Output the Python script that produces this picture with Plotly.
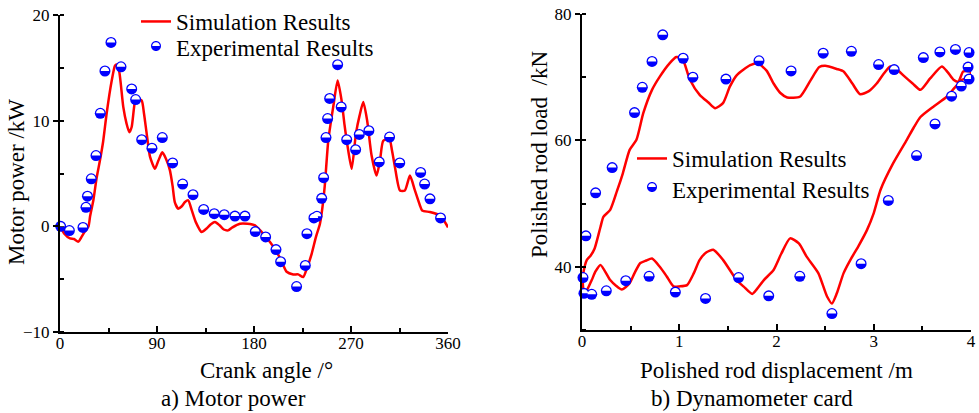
import plotly.graph_objects as go

# ---------------- a) Motor power ----------------
crank_sim = [0, 4, 9.3, 13, 17, 20, 23, 26.3, 28, 31, 34, 37, 40, 43.3, 48, 51, 52.5, 55,
             58.7, 61.8, 64.3, 66.5, 69.6, 71.7, 75.8, 77.9, 80.4, 83.5, 88.1, 91.2, 94.9,
             98.3, 102, 104.5, 106.5, 109.7, 113, 116, 119, 122, 126, 131.4, 136, 140,
             143.8, 148, 152, 156.1, 160, 166.9, 174, 180.9, 184, 188.6, 195, 201, 206,
             210.3, 216.4, 221, 225.7, 229, 233.5, 237.5, 241.2, 243.5, 245.8, 248.9, 253.5,
             257.6, 261.3, 264, 266.5, 270.6, 274.6, 278, 281.4, 285, 289.1, 293.7, 297,
             299.9, 305.5, 308, 310.8, 315.4, 320, 324.7, 329.3, 333.9, 336, 343.2, 352.5,
             356, 360]
power_sim = [0, -0.7, -1.15, -1.2, -1.45, -1.0, -0.5, -0.05, 1.0, 2.5, 4.6, 6.2, 8.0, 10.7,
             13.8, 15.2, 15.3, 14.6, 11.3, 9.7, 8.9, 9.4, 11.8, 12.1, 11.9, 10.7, 8.8, 6.6,
             5.45, 6.2, 7.0, 6.4, 5.3, 3.8, 2.3, 1.67, 1.9, 2.3, 2.46, 1.6, 0.4, -0.54, -0.2,
             0.2, 0.41, 0.1, -0.3, -0.38, -0.1, 0.25, 0.25, 0.1, -0.2, -0.7, -1.5, -2.4, -3.4,
             -4.3, -4.55, -4.55, -4.8, -4.0, -2.6, -1.0, 0.25, 1.8, 4.0, 8.1, 11.3, 13.8,
             11.9, 9.6, 7.8, 5.45, 8.8, 10.5, 11.76, 10.0, 6.7, 4.8, 6.3, 8.1, 8.3, 7.2, 5.6,
             3.4, 3.4, 4.8, 3.4, 2.0, 1.5, 1.35, 1.04, 0.6, -0.1]

crank_exp = [0.6, 8.7, 21.3, 24.1, 25.5, 29.0, 33.4, 37.4, 41.7, 47.3, 56.6, 66.5, 70.2,
             75.8, 85.3, 94.9, 104.5, 113.8, 123.4, 133.3, 143.1, 152.4, 162.3, 171.6,
             181.2, 190.8, 200.4, 204.7, 219.5, 227.6, 229.1, 235.6, 238.4, 242.8, 244.6,
             246.8, 248.3, 250.2, 257.6, 260.9, 266.0, 274.3, 277.7, 286.6, 296.2, 305.8,
             315.2, 334.6, 338.3, 343.3, 353.1]
power_exp = [0.0, -0.4, -0.1, 1.8, 2.85, 4.5, 6.7, 10.7, 14.7, 17.4, 15.1, 13.0, 12.0, 8.2,
             7.4, 8.4, 6.0, 4.0, 3.0, 1.6, 1.2, 1.1, 0.97, 0.97, -0.5, -1.0, -2.2, -3.35,
             -5.7, -3.7, -0.7, 0.8, 0.95, 2.65, 4.6, 8.4, 10.2, 12.1, 15.3, 11.3, 8.2, 7.25,
             8.7, 9.05, 6.1, 8.45, 6.0, 5.1, 4.0, 2.6, 0.8]

# ---------------- b) Dynamometer card ----------------
disp_sim = [0.01, 0.03, 0.05, 0.09, 0.13, 0.19, 0.22, 0.29, 0.36, 0.42, 0.49, 0.56, 0.63,
            0.72, 0.80, 0.90, 0.97, 1.03, 1.11, 1.21, 1.30, 1.37, 1.45, 1.52, 1.59, 1.73,
            1.81, 1.90, 1.97, 2.04, 2.11, 2.24, 2.35, 2.44, 2.50, 2.62, 2.69, 2.78, 2.86,
            2.95, 3.03, 3.10, 3.17, 3.24, 3.31, 3.40, 3.48, 3.58, 3.70, 3.76, 3.82, 3.87,
            3.92, 3.99,
            4.0, 3.96, 3.91, 3.83, 3.75, 3.61, 3.48, 3.41, 3.34, 3.20, 3.07, 3.00, 2.93,
            2.84, 2.76, 2.69, 2.62, 2.57, 2.52, 2.43, 2.31, 2.23, 2.14, 2.05, 1.97, 1.87,
            1.80, 1.75, 1.66, 1.59, 1.45, 1.35, 1.28, 1.21, 1.15, 1.08, 1.00, 0.94, 0.87,
            0.80, 0.72, 0.66, 0.60, 0.54, 0.49, 0.41, 0.35, 0.29, 0.19, 0.14, 0.10, 0.05,
            0.02, 0.01, 0.01]
load_sim = [38.5, 40.2, 41.1, 41.8, 42.9, 46.3, 47.9, 49.0, 52.0, 54.8, 58.5, 60.1, 64.3,
            68.0, 70.1, 72.2, 73.2, 73.0, 69.6, 67.2, 66.0, 65.1, 65.9, 68.5, 70.3, 71.9,
            72.2, 71.0, 69.0, 67.5, 66.8, 66.9, 69.5, 71.6, 71.8, 71.3, 70.9, 69.0, 67.3,
            67.8, 69.0, 70.5, 71.7, 71.2, 70.2, 69.0, 68.0, 69.8, 71.7, 70.8, 69.6, 69.3,
            70.9, 70.9,
            70.5, 69.8, 69.6, 68.3, 66.9, 65.3, 63.7, 62.0, 60.1, 56.4, 52.2, 48.5, 45.8,
            43.2, 41.1, 39.0, 35.8, 34.2, 35.3, 39.0, 41.6, 43.7, 44.5, 42.1, 39.5, 37.9,
            36.5, 35.7, 36.9, 37.9, 41.1, 42.7, 42.3, 41.1, 39.0, 37.1, 36.9, 36.9, 38.5,
            40.0, 41.3, 41.0, 40.6, 39.0, 37.4, 36.4, 37.0, 37.9, 40.3, 39.3, 37.9, 36.3,
            36.0, 37.0, 38.5]

disp_exp = [0.01, 0.02, 0.04, 0.10, 0.14, 0.25, 0.31, 0.45, 0.54, 0.62, 0.69, 0.72, 0.83,
            0.96, 1.04, 1.14, 1.27, 1.48, 1.61, 1.82, 1.92, 2.15, 2.24, 2.48, 2.57, 2.77,
            2.87, 3.05, 3.15, 3.21, 3.44, 3.51, 3.63, 3.68, 3.80, 3.84, 3.90, 3.97, 3.98,
            3.98]
load_exp = [38.3, 35.8, 44.9, 35.65, 51.7, 36.2, 55.7, 37.8, 64.4, 68.4, 38.5, 72.5, 76.7,
            36.0, 73.0, 70.0, 35.0, 69.7, 38.3, 72.6, 35.4, 71.0, 38.5, 73.8, 32.6, 74.1,
            40.5, 72.0, 50.5, 71.2, 57.6, 73.1, 62.6, 74.0, 67.0, 74.4, 68.6, 71.6, 73.9,
            69.7]

TICK_LEFT_X = [0, 90, 180, 270, 360]
TICK_LEFT_Y = [-10, 0, 10, 20]
TICK_RIGHT_X = [0, 1, 2, 3, 4]
TICK_RIGHT_Y = [40, 60, 80]

W, H = 979, 413
RED = "#ff0000"
BLUE = "#0000ff"
SERIF = "Liberation Serif"
MARKER_SIZE = 11
LEGEND_MARKER_SIZE = 10
LEGEND_FONT = dict(family=SERIF, size=23, color="black")


def px_x(p):
    return p / W


def px_y(p):
    return 1 - p / H


fig = go.Figure()

# Simulation curves
fig.add_trace(go.Scatter(x=crank_sim, y=power_sim, mode="lines", name="Simulation Results",
                         line=dict(color=RED, width=2.5, shape="spline", smoothing=0.6),
                         xaxis="x", yaxis="y", legend="legend"))
fig.add_trace(go.Scatter(x=disp_sim, y=load_sim, mode="lines", name="Simulation Results",
                         line=dict(color=RED, width=2.5, shape="spline", smoothing=0.6),
                         xaxis="x2", yaxis="y2", legend="legend3"))

# Experimental markers (blue disc; the white upper half is added as shapes)
fig.add_trace(go.Scatter(x=crank_exp, y=power_exp, mode="markers", showlegend=False,
                         marker=dict(color=BLUE, size=MARKER_SIZE, line=dict(width=0)),
                         cliponaxis=False, xaxis="x", yaxis="y"))
fig.add_trace(go.Scatter(x=disp_exp, y=load_exp, mode="markers", showlegend=False,
                         marker=dict(color=BLUE, size=MARKER_SIZE, line=dict(width=0)),
                         cliponaxis=False, xaxis="x2", yaxis="y2"))
# legend entries for the experimental series; their symbol is drawn as shapes below
fig.add_trace(go.Scatter(x=[None], y=[None], mode="markers", name="Experimental Results",
                         marker=dict(color="rgba(0,0,0,0)", size=LEGEND_MARKER_SIZE),
                         xaxis="x", yaxis="y", legend="legend2"))
fig.add_trace(go.Scatter(x=[None], y=[None], mode="markers", name="Experimental Results",
                         marker=dict(color="rgba(0,0,0,0)", size=LEGEND_MARKER_SIZE),
                         xaxis="x2", yaxis="y2", legend="legend4"))


def half_disc(r, upper=True):
    c = 0.5523 * r
    s = 1 if upper else -1
    return (f"M {-r},0 C {-r},{s * c} {-c},{s * r} 0,{s * r} "
            f"C {c},{s * r} {r},{s * c} {r},0 Z")


def full_disc(r):
    c = 0.5523 * r
    return (f"M {-r},0 C {-r},{c} {-c},{r} 0,{r} C {c},{r} {r},{c} {r},0 "
            f"C {r},{-c} {c},{-r} 0,{-r} C {-c},{-r} {-r},{-c} {-r},0 Z")


shapes = []
for xs, ys, xr, yr in [(crank_exp, power_exp, "x", "y"), (disp_exp, load_exp, "x2", "y2")]:
    for xv, yv in zip(xs, ys):
        shapes.append(dict(type="path", xref=xr, yref=yr, xsizemode="pixel", ysizemode="pixel",
                           xanchor=xv, yanchor=yv, path=half_disc(MARKER_SIZE / 2 - 1.3),
                           fillcolor="white", line=dict(width=0), layer="above"))

# one legend box per entry: (left edge px, top edge px)
legend_boxes = {"legend": (136, 0), "legend2": (136, 26),
                "legend3": (632, 137), "legend4": (632, 168)}
legend_layout = {}
for key, (lx, ty) in legend_boxes.items():
    legend_layout[key] = dict(x=px_x(lx), y=px_y(ty), xanchor="left", yanchor="top",
                              bgcolor="rgba(0,0,0,0)", font=LEGEND_FONT)

# half-filled symbol for the experimental legend entries
for cx, cy in [(156, 46), (652, 187)]:
    for path, color in [(full_disc(LEGEND_MARKER_SIZE / 2), BLUE),
                        (half_disc(LEGEND_MARKER_SIZE / 2 - 1.2), "white")]:
        shapes.append(dict(type="path", xref="paper", yref="paper", xsizemode="pixel",
                           ysizemode="pixel", xanchor=px_x(cx), yanchor=px_y(cy),
                           path=path, fillcolor=color, line=dict(width=0), layer="above"))

axis_common = dict(showline=True, linecolor="black", linewidth=2, showgrid=False,
                   zeroline=False, mirror=False, tickcolor="black", tickwidth=1.5,
                   automargin=False,
                   tickfont=dict(family=SERIF, size=17, color="black"))

fig.update_layout(
    template="none",
    width=W, height=H,
    margin=dict(l=0, r=0, t=0, b=0, autoexpand=False),
    paper_bgcolor="white", plot_bgcolor="white",
    font=dict(family=SERIF, color="black"),
    xaxis=dict(domain=[px_x(60), px_x(448)], range=[0, 360], anchor="y",
               tickvals=TICK_LEFT_X, ticks="inside", ticklen=6, ticklabelstandoff=-5,
               minor=dict(dtick=45, ticks="inside", ticklen=4, tickcolor="black"),
               **axis_common),
    yaxis=dict(domain=[px_y(332), px_y(15)], range=[-10, 20], anchor="x",
               tickvals=TICK_LEFT_Y, ticks="outside", ticklen=5,
               minor=dict(dtick=5, ticks="inside", ticklen=4, tickcolor="black"),
               **axis_common),
    xaxis2=dict(domain=[px_x(582), px_x(971)], range=[0, 4], anchor="y2",
                tickvals=TICK_RIGHT_X, ticks="inside", ticklen=6, ticklabelstandoff=-5,
                minor=dict(dtick=0.5, ticks="inside", ticklen=4, tickcolor="black"),
                **axis_common),
    yaxis2=dict(domain=[px_y(330), px_y(14)], range=[30, 80], anchor="x2",
                tickvals=TICK_RIGHT_Y, ticks="outside", ticklen=5,
                minor=dict(dtick=10, ticks="inside", ticklen=4, tickcolor="black"),
                **axis_common),
    shapes=shapes,
    annotations=[
        dict(text="Motor power /kW", x=px_x(17), y=px_y(182), textangle=-90),
        dict(text="Crank angle /°", x=px_x(266), y=px_y(370)),
        dict(text="a) Motor power", x=px_x(233), y=px_y(398)),
        dict(text="Polished rod load  /kN", x=px_x(540), y=px_y(155), textangle=-90),
        dict(text="Polished rod displacement /m", x=px_x(776), y=px_y(370)),
        dict(text="b) Dynamometer card", x=px_x(752), y=px_y(398)),
    ],
    **legend_layout,
)
fig.update_annotations(xref="paper", yref="paper", xanchor="center", yanchor="middle",
                       showarrow=False, font=dict(family=SERIF, size=23, color="black"))

fig.write_html("out.html")
